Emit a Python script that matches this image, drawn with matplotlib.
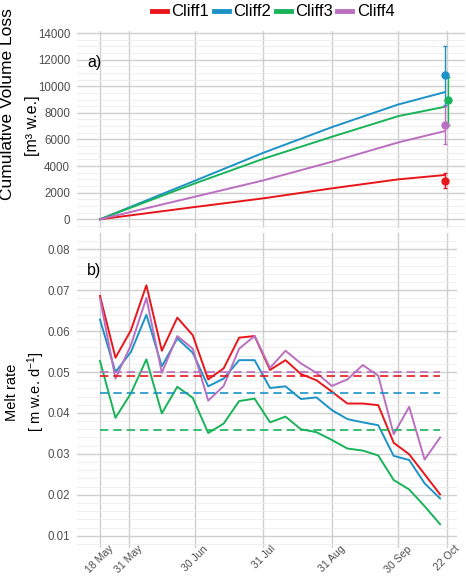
import numpy as np
import pandas as pd
import matplotlib
matplotlib.use("Agg")
import matplotlib.pyplot as plt
import matplotlib.dates as mdates
from matplotlib.lines import Line2D
from matplotlib.ticker import MultipleLocator

plt.rcParams['font.family'] = ['Liberation Sans', 'DejaVu Sans']
plt.rcParams['mathtext.fontset'] = 'custom'
plt.rcParams['mathtext.rm'] = 'Liberation Sans'
plt.rcParams['mathtext.it'] = 'Liberation Sans:italic'

#%% Data
cliffs = ['Cliff1', 'Cliff2', 'Cliff3', 'Cliff4']
colors = ['#e8161b', '#1c92c7', '#19b35a', '#bb6fc0']

# a) cumulative volume loss [m3 w.e.]
cum_dates = pd.to_datetime(['2015-05-18', '2015-06-30', '2015-07-31',
                            '2015-08-31', '2015-09-30', '2015-10-21'])
cum_cliff1 = [0, 925, 1575, 2325, 3000, 3325]
cum_cliff2 = [0, 2900, 5000, 6925, 8625, 9550]
cum_cliff3 = [0, 2700, 4550, 6200, 7750, 8450]
cum_cliff4 = [0, 1700, 2925, 4325, 5775, 6625]

# independent estimates at the end of the season (point +/- range)
pt_dates = pd.to_datetime(['2015-10-21 08:00', '2015-10-21 08:00',
                           '2015-10-22 16:00', '2015-10-21 08:00'])
pt_val = [2880, 10845, 8960, 7090]
pt_lo = [2330, 8600, 7090, 5640]
pt_hi = [3455, 13020, 10720, 8540]

# b) weekly melt rate [m w.e. d-1]
rate_dates = pd.date_range('2015-05-18', periods=23, freq='7D')
rate_cliff1 = [0.0686, 0.0535, 0.0602, 0.0712, 0.0552, 0.0633, 0.0590, 0.0482,
               0.0509, 0.0584, 0.0588, 0.0505, 0.0529, 0.0495, 0.0480, 0.0452,
               0.0423, 0.0423, 0.0419, 0.0327, 0.0299, 0.0250, 0.0201]
rate_cliff2 = [0.0628, 0.0500, 0.0549, 0.0640, 0.0514, 0.0582, 0.0547, 0.0465,
               0.0484, 0.0529, 0.0529, 0.0461, 0.0465, 0.0434, 0.0438, 0.0407,
               0.0385, 0.0377, 0.0370, 0.0295, 0.0285, 0.0228, 0.0191]
rate_cliff3 = [0.0527, 0.0388, 0.0448, 0.0531, 0.0399, 0.0464, 0.0437, 0.0351,
               0.0374, 0.0429, 0.0435, 0.0377, 0.0391, 0.0360, 0.0353, 0.0334,
               0.0313, 0.0308, 0.0296, 0.0236, 0.0213, 0.0172, 0.0128]
rate_cliff4 = [0.0680, 0.0484, 0.0566, 0.0681, 0.0498, 0.0588, 0.0557, 0.0430,
               0.0466, 0.0557, 0.0588, 0.0510, 0.0552, 0.0521, 0.0498, 0.0466,
               0.0482, 0.0517, 0.0491, 0.0348, 0.0415, 0.0286, 0.0340]
rate_mean = [0.0490, 0.0448, 0.0359, 0.0500]

tick_dates = pd.to_datetime(['2015-05-18', '2015-05-31', '2015-06-30', '2015-07-31',
                             '2015-08-31', '2015-09-30', '2015-10-22'])
tick_labels = ['18 May', '31 May', '30 Jun', '31 Jul', '31 Aug', '30 Sep', '22 Oct']

cum_all = [cum_cliff1, cum_cliff2, cum_cliff3, cum_cliff4]
rate_all = [rate_cliff1, rate_cliff2, rate_cliff3, rate_cliff4]

#%% Figure
W, H = 466, 576
fig = plt.figure(figsize=(W / 100, H / 100), dpi=100)

def px_axes(left, top, right, bottom):
    return fig.add_axes([left / W, 1 - bottom / H, (right - left) / W, (bottom - top) / H])

ax1 = px_axes(77, 30.7, 465, 228)
ax2 = px_axes(77, 233, 456.7, 548)

d0 = mdates.date2num(pd.Timestamp('2015-05-18'))
ax1.set_xlim(d0 - 10.42, d0 + 165.28)
ax2.set_xlim(d0 - 10.42, d0 + 161.53)
ax1.set_ylim(-654, 14173)
ax2.set_ylim(0.00699, 0.08398)

grid_major = '#cfcfcf'
grid_minor = '#ececec'
for ax in (ax1, ax2):
    for s in ax.spines.values():
        s.set_visible(False)
    ax.set_xticks(mdates.date2num(tick_dates))
    ax.tick_params(length=0, labelsize=8.3, labelcolor='#4d4d4d', pad=5)
    ax.grid(True, which='major', color=grid_major, lw=1.0)
    ax.grid(True, which='minor', axis='y', color=grid_minor, lw=0.6)
    ax.tick_params(which='minor', length=0)
    ax.set_axisbelow(True)

ax1.yaxis.set_major_locator(MultipleLocator(2000))
ax1.yaxis.set_minor_locator(MultipleLocator(500))
ax1.set_xticklabels([])
ax2.yaxis.set_major_locator(MultipleLocator(0.01))
ax2.yaxis.set_minor_locator(MultipleLocator(0.002))
ax2.set_yticklabels([f'{v:.2f}' for v in ax2.get_yticks()])
ax2.set_ylim(0.00699, 0.08398)
ax2.set_xticklabels(tick_labels, rotation=45, ha='center', va='top', fontsize=7.6)
ax2.tick_params(axis='x', pad=-3)

# Panel a: cumulative volume loss
for vals, c in zip(cum_all, colors):
    ax1.plot(cum_dates, vals, color=c, lw=1.4)
for i, c in enumerate(colors):
    ax1.errorbar(pt_dates[i], pt_val[i],
                 yerr=[[pt_val[i] - pt_lo[i]], [pt_hi[i] - pt_val[i]]],
                 fmt='o', color=c, ms=5, elinewidth=1.0, capsize=1.5, zorder=4)
ax1.text(d0 - 5.9, 11820, 'a)', fontsize=11.5, ha='left', va='center')

# Panel b: melt rate
for vals, c in zip(rate_all, colors):
    ax2.plot(rate_dates, vals, color=c, lw=1.4)
for m, c in zip(rate_mean, colors):
    ax2.hlines(m, rate_dates[0], rate_dates[-1], colors=c, lw=1.2,
               linestyles=(0, (5, 3)))
ax2.text(d0 - 5.9, 0.0748, 'b)', fontsize=11.5, ha='left', va='center')

# axis titles
fig.text(8 / W, 1 - 104 / H, 'Cumulative Volume Loss', rotation=90,
         ha='center', va='center', fontsize=12.5)
fig.text(33 / W, 1 - 126 / H, '[m³ w.e.]', rotation=90,
         ha='center', va='center', fontsize=11.5)
fig.text(12.5 / W, 1 - 392 / H, 'Melt rate', rotation=90,
         ha='center', va='center', fontsize=10.5)
fig.text(36 / W, 1 - 392 / H, r'[ m w.e. d$^{-1}$]', rotation=90,
         ha='center', va='center', fontsize=10.5)

# legend
handles = [Line2D([0], [0], color=c, lw=3.5) for c in colors]
fig.legend(handles, cliffs, loc='center', bbox_to_anchor=(273 / W, 1 - 12 / H),
           ncol=4, frameon=False, fontsize=12, handlelength=0.9,
           handletextpad=0.25, columnspacing=0.3, borderaxespad=0)

fig.savefig('out.png', dpi=100)
